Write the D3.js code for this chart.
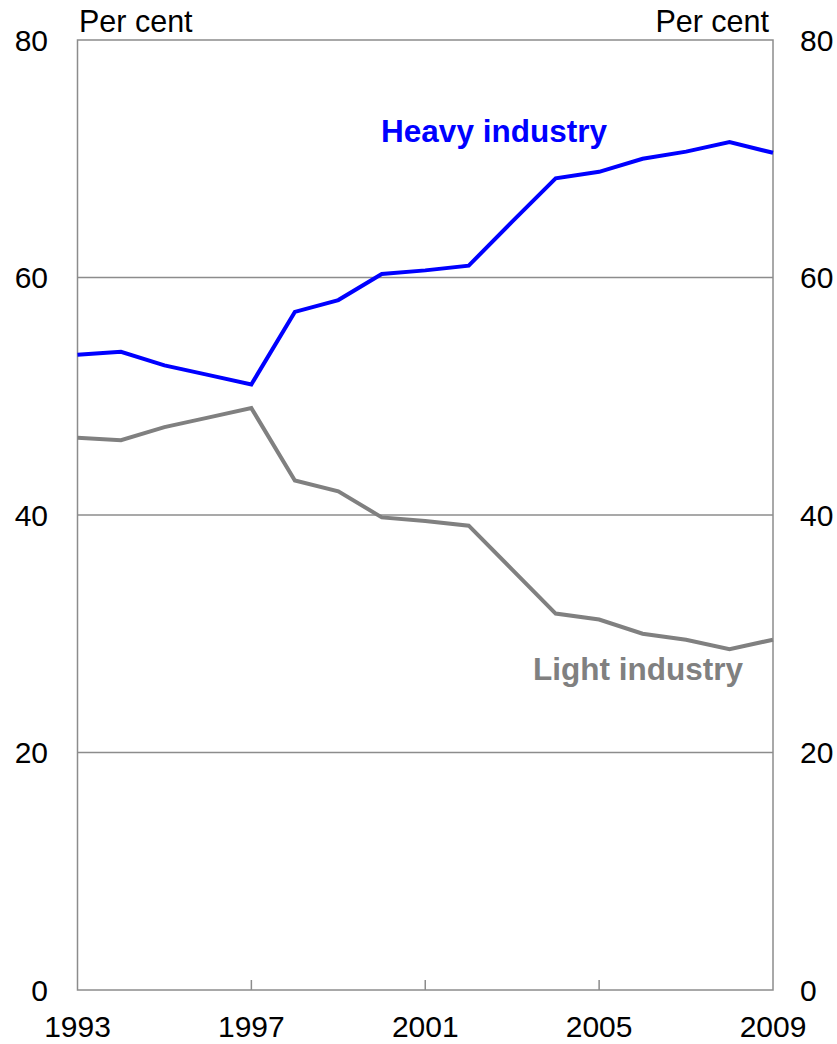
<!DOCTYPE html>
<html><head><meta charset="utf-8">
<script src="https://cdn.jsdelivr.net/npm/d3@7"></script>
<style>body{margin:0;background:#fff;}</style>
</head><body>
<script>
const years = [1993,1994,1995,1996,1997,1998,1999,2000,2001,2002,2003,2004,2005,2006,2007,2008,2009];
const heavy = [53.5,53.75,52.6,51.8,51.0,57.1,58.1,60.3,60.6,61.0,64.7,68.35,68.9,70.0,70.6,71.4,70.5];
const light = [46.5,46.3,47.4,48.2,49.0,42.9,42.0,39.8,39.5,39.1,35.4,31.7,31.2,30.0,29.5,28.7,29.5];
const yTicks = [0,20,40,60,80];
const xTicks = [1993,1997,2001,2005,2009];
const unitLabel = "Per cent";

const W = 837, H = 1044;
const L = 77.5, R = 773, T = 40, B = 990;
const font = "'Liberation Sans',Arial,sans-serif";
const gridColor = "#8c8c8c";

const svg = d3.select("body").append("svg").attr("width", W).attr("height", H);
const x = d3.scaleLinear().domain([1993, 2009]).range([L, R]);
const y = d3.scaleLinear().domain([0, 80]).range([B, T]);

// gridlines
svg.append("g").selectAll("line").data(yTicks.filter(d => d > 0 && d < 80)).join("line")
  .attr("x1", L).attr("x2", R).attr("y1", d => y(d)).attr("y2", d => y(d))
  .attr("stroke", gridColor).attr("stroke-width", 1.5);

// frame
svg.append("rect").attr("x", L).attr("y", T).attr("width", R - L).attr("height", B - T)
  .attr("fill", "none").attr("stroke", gridColor).attr("stroke-width", 1.5);

// x ticks (inward)
svg.append("g").selectAll("line").data(xTicks.slice(1, -1)).join("line")
  .attr("x1", d => x(d)).attr("x2", d => x(d)).attr("y1", B).attr("y2", B - 10)
  .attr("stroke", gridColor).attr("stroke-width", 1.5);

// y labels
svg.append("g").selectAll("text").data(yTicks).join("text")
  .attr("x", 48).attr("y", d => y(d)).attr("dy", "0.36em").attr("text-anchor", "end")
  .attr("font-family", font).attr("font-size", 30).attr("fill", "#000").text(d => d);
svg.append("g").selectAll("text").data(yTicks).join("text")
  .attr("x", 800).attr("y", d => y(d)).attr("dy", "0.36em").attr("text-anchor", "start")
  .attr("font-family", font).attr("font-size", 30).attr("fill", "#000").text(d => d);

// x labels
svg.append("g").selectAll("text").data(xTicks).join("text")
  .attr("x", d => x(d)).attr("y", 1037).attr("text-anchor", "middle")
  .attr("font-family", font).attr("font-size", 30).attr("fill", "#000").text(d => d);

// unit labels
svg.append("text").attr("x", 79).attr("y", 32).attr("font-family", font).attr("font-size", 30.5).text(unitLabel);
svg.append("text").attr("x", 769).attr("y", 32).attr("text-anchor", "end").attr("font-family", font).attr("font-size", 30.5).text(unitLabel);

const line = d3.line().x((d, i) => x(years[i])).y(d => y(d));
svg.append("path").datum(light).attr("d", line).attr("fill", "none")
  .attr("stroke", "#808080").attr("stroke-width", 4).attr("stroke-linejoin", "miter");
svg.append("path").datum(heavy).attr("d", line).attr("fill", "none")
  .attr("stroke", "#0000ff").attr("stroke-width", 4).attr("stroke-linejoin", "miter");

svg.append("text").attr("x", 494).attr("y", 142).attr("text-anchor", "middle")
  .attr("font-family", font).attr("font-weight", "bold").attr("font-size", 31.5)
  .attr("fill", "#0000ff").text("Heavy industry");
svg.append("text").attr("x", 638).attr("y", 680).attr("text-anchor", "middle")
  .attr("font-family", font).attr("font-weight", "bold").attr("font-size", 31.5)
  .attr("fill", "#808080").text("Light industry");
</script>
</body></html>
